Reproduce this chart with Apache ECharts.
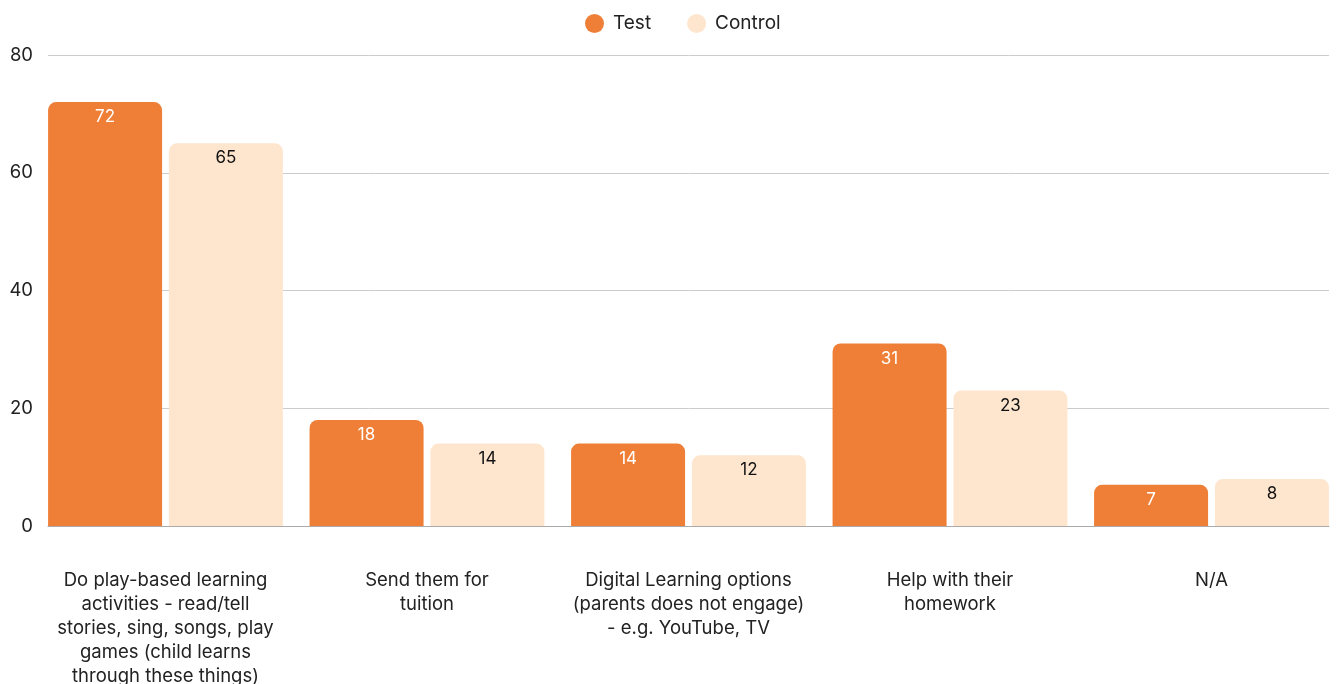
<!DOCTYPE html>
<html>
<head>
<meta charset="utf-8">
<script src="https://cdn.jsdelivr.net/npm/echarts@6/dist/echarts.min.js"></script>
<style>
  html, body { margin: 0; padding: 0; background: #ffffff; }
  #chart { width: 1339px; height: 684px; }
</style>
</head>
<body>
<div id="chart"></div>
<script>
// Ways parents support their child's learning, by group
const categories = [
  'Do play-based learning\nactivities - read/tell\nstories, sing, songs, play\ngames (child learns\nthrough these things)',
  'Send them for\ntuition',
  'Digital Learning options\n(parents does not engage)\n- e.g. YouTube, TV',
  'Help with their\nhomework',
  'N/A'
];
const testValues = [72, 18, 14, 31, 7];
const controlValues = [65, 14, 12, 23, 8];
const yTicks = { min: 0, max: 80, interval: 20 };

const FONT = 'Inter, "Noto Sans", sans-serif';
const ORANGE = '#EF7F36';
const PEACH = '#FEE6CE';

const chart = echarts.init(document.getElementById('chart'), null, { renderer: 'canvas' });

chart.setOption({
  animation: false,
  textStyle: { fontFamily: FONT },
  legend: {
    top: 9,
    left: 580,
    icon: 'circle',
    itemWidth: 19,
    itemHeight: 19,
    itemGap: 36,
    textStyle: { fontSize: 19, color: '#222', fontFamily: FONT, padding: [0, 0, 0, 4] },
    data: ['Test', 'Control']
  },
  grid: [
    // frame for gridlines, baseline and value labels
    { left: 48, right: 10, top: 55, bottom: 158, outerBoundsMode: 'none', containLabel: false },
    // frame for the bars and category labels
    { left: 34.75, right: -3.25, top: 55, bottom: 158, outerBoundsMode: 'none', containLabel: false }
  ],
  xAxis: [
    {
      gridIndex: 0, type: 'category', data: categories,
      axisLine: { show: true, lineStyle: { color: '#aaaaaa', width: 1 } },
      axisTick: { show: false }, axisLabel: { show: false }, splitLine: { show: false }
    },
    {
      gridIndex: 1, type: 'category', data: categories,
      axisLine: { show: false }, axisTick: { show: false },
      axisLabel: {
        show: true, interval: 0, margin: 42,
        fontSize: 18.5, lineHeight: 24, color: '#222', fontFamily: FONT, align: 'center'
      }
    }
  ],
  yAxis: [
    {
      gridIndex: 0, type: 'value', min: yTicks.min, max: yTicks.max, interval: yTicks.interval,
      axisLine: { show: false }, axisTick: { show: false },
      axisLabel: { margin: 15, fontSize: 18.5, color: '#222', fontFamily: FONT },
      splitLine: { lineStyle: { color: '#cccccc', width: 1 } }
    },
    {
      gridIndex: 1, type: 'value', min: yTicks.min, max: yTicks.max, interval: yTicks.interval,
      show: false, splitLine: { show: false }
    }
  ],
  series: [
    {
      name: 'Test', type: 'bar', xAxisIndex: 1, yAxisIndex: 1,
      data: testValues, barWidth: 114, barGap: '6%',
      itemStyle: { color: ORANGE, borderRadius: [8, 8, 0, 0] },
      label: {
        show: true, position: 'insideTop', distance: 6.5,
        fontSize: 17, color: '#ffffff', fontFamily: FONT
      }
    },
    {
      name: 'Control', type: 'bar', xAxisIndex: 1, yAxisIndex: 1,
      data: controlValues, barWidth: 114, barGap: '6%',
      itemStyle: { color: PEACH, borderRadius: [8, 8, 0, 0] },
      label: {
        show: true, position: 'insideTop', distance: 6.5,
        fontSize: 17, color: '#111111', fontFamily: FONT
      }
    }
  ]
});
</script>
</body>
</html>
